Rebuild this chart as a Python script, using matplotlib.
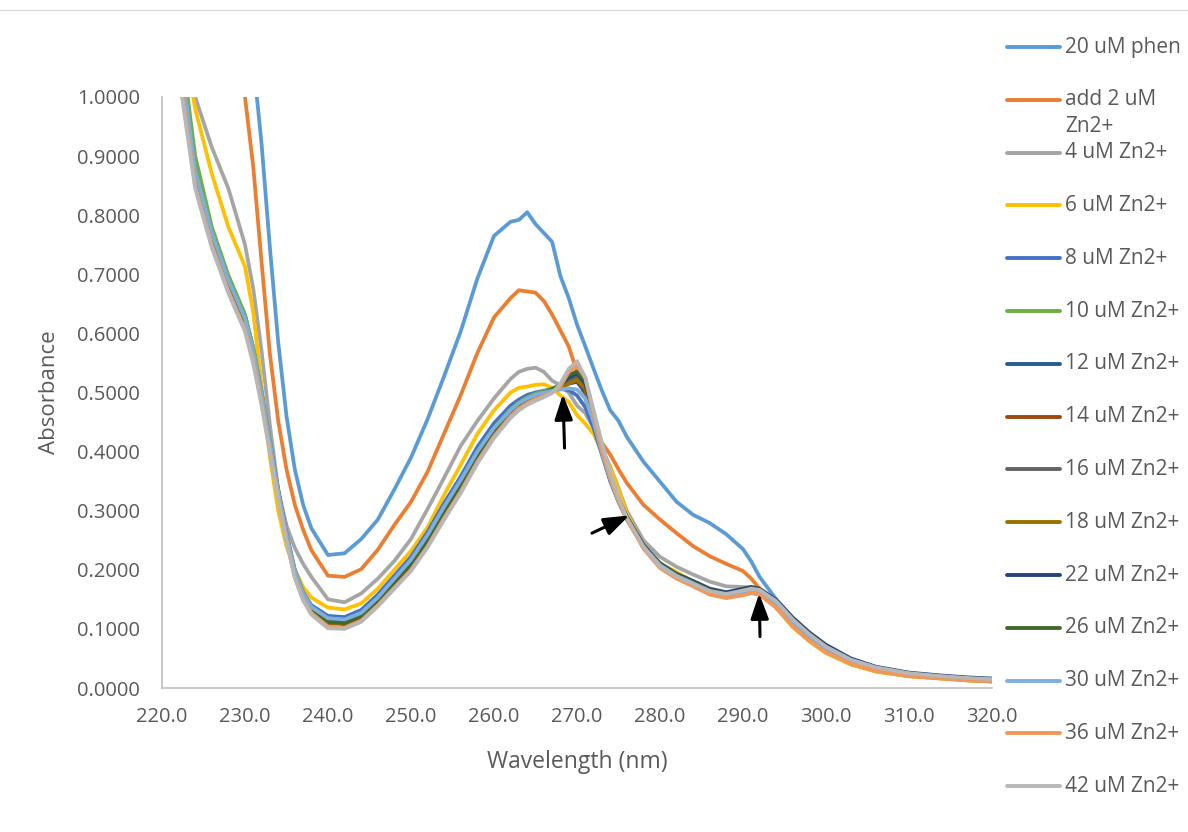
import matplotlib
matplotlib.use("Agg")
import matplotlib.pyplot as plt
from matplotlib.lines import Line2D
from matplotlib.ticker import FormatStrFormatter, MultipleLocator

plt.rcParams['font.family'] = ['Open Sans', 'DejaVu Sans']

# wavelength grid (nm) shared by every spectrum
wavelength = [220, 222, 224, 226, 228, 230, 231, 232, 233, 234, 235, 236, 237, 238,
              240, 242, 244, 246, 248, 250, 252, 254, 256, 258, 260, 262,
              263, 264, 265, 266, 267, 268, 269, 270, 271, 272, 273, 274, 275, 276,
              278, 280, 282, 284, 286, 288, 290, 291, 292,
              294, 296, 298, 300, 303, 306, 310, 314, 317, 320]

labels = ["20 uM phen", "add 2 uM\nZn2+", "4 uM Zn2+", "6 uM Zn2+", "8 uM Zn2+",
          "10 uM Zn2+", "12 uM Zn2+", "14 uM Zn2+", "16 uM Zn2+", "18 uM Zn2+",
          "22 uM Zn2+", "26 uM Zn2+", "30 uM Zn2+", "36 uM Zn2+", "42 uM Zn2+"]

colors = ["#5B9BD5", "#ED7D31", "#A5A5A5", "#FFC000", "#4472C4", "#70AD47",
          "#255E91", "#9E480E", "#636363", "#997300", "#264478", "#43682B",
          "#7CAFDD", "#F1975A", "#B7B7B7"]

phen_20 = [2.0, 2.0, 1.9, 1.75, 1.5, 1.2, 1.06, 0.92, 0.745, 0.585, 0.46, 0.37, 0.31, 0.27,
           0.225, 0.228, 0.252, 0.285, 0.336, 0.39, 0.455, 0.528, 0.604, 0.693, 0.765, 0.789,
           0.792, 0.805, 0.785, 0.77, 0.755, 0.697, 0.66, 0.615, 0.578, 0.54, 0.503, 0.47, 0.452, 0.425,
           0.383, 0.349, 0.315, 0.293, 0.279, 0.26, 0.235, 0.214, 0.188,
           0.150, 0.118, 0.092, 0.071, 0.048, 0.034, 0.025, 0.019, 0.016, 0.014]

zn_2 = [2.0, 1.9, 1.7, 1.5, 1.3, 1.0, 0.881, 0.72, 0.565, 0.452, 0.37, 0.31, 0.268, 0.233,
        0.19, 0.188, 0.201, 0.234, 0.276, 0.315, 0.366, 0.431, 0.496, 0.567, 0.627, 0.66,
        0.673, 0.671, 0.669, 0.655, 0.632, 0.605, 0.578, 0.535, 0.49, 0.445, 0.415, 0.395, 0.37, 0.347,
        0.31, 0.285, 0.262, 0.24, 0.223, 0.21, 0.198, 0.185, 0.168,
        0.136, 0.104, 0.08, 0.06, 0.04, 0.028, 0.02, 0.016, 0.013, 0.011]

zn_4 = [1.3, 1.15, 1.0, 0.915, 0.845, 0.75, 0.675, 0.57, 0.445, 0.335, 0.275, 0.237, 0.21, 0.188,
        0.15, 0.145, 0.16, 0.185, 0.215, 0.252, 0.303, 0.356, 0.41, 0.452, 0.49, 0.523,
        0.535, 0.54, 0.542, 0.535, 0.52, 0.512, 0.5, 0.478, 0.465, 0.44, 0.405, 0.375, 0.338, 0.30,
        0.25, 0.222, 0.205, 0.192, 0.18, 0.172, 0.171, 0.17, 0.166,
        0.145, 0.114, 0.088, 0.068, 0.046, 0.033, 0.024, 0.018, 0.015, 0.013]

zn_6 = [1.4, 1.15, 0.98, 0.87, 0.78, 0.713, 0.635, 0.51, 0.39, 0.30, 0.24, 0.20, 0.171, 0.153,
        0.136, 0.133, 0.143, 0.168, 0.20, 0.232, 0.272, 0.327, 0.378, 0.43, 0.47, 0.50,
        0.508, 0.51, 0.513, 0.514, 0.508, 0.495, 0.484, 0.462, 0.447, 0.43, 0.40, 0.373, 0.335, 0.295,
        0.24, 0.211, 0.196, 0.18, 0.166, 0.158, 0.158, 0.16, 0.158,
        0.136, 0.103, 0.079, 0.059, 0.04, 0.028, 0.02, 0.016, 0.013, 0.011]

zn_8 = [1.3, 1.1, 0.88, 0.775, 0.695, 0.63, 0.575, 0.50, 0.418, 0.335, 0.262, 0.2, 0.162, 0.14,
        0.122, 0.12, 0.132, 0.158, 0.19, 0.222, 0.264, 0.313, 0.358, 0.408, 0.448, 0.478,
        0.488, 0.496, 0.50, 0.503, 0.505, 0.506, 0.504, 0.495, 0.475, 0.44, 0.395, 0.35, 0.315, 0.285,
        0.24, 0.21, 0.19, 0.178, 0.165, 0.158, 0.162, 0.165, 0.163,
        0.142, 0.11, 0.086, 0.066, 0.045, 0.032, 0.023, 0.018, 0.015, 0.013]

zn_10 = [1.35, 1.12, 0.9, 0.78, 0.698, 0.632, 0.575, 0.5, 0.418, 0.335, 0.26, 0.198, 0.16, 0.137,
         0.118, 0.115, 0.126, 0.152, 0.183, 0.215, 0.257, 0.305, 0.35, 0.4, 0.44, 0.472,
         0.483, 0.492, 0.498, 0.502, 0.507, 0.512, 0.52, 0.525, 0.505, 0.455, 0.40, 0.355, 0.318, 0.288,
         0.24, 0.208, 0.19, 0.177, 0.163, 0.156, 0.162, 0.166, 0.162,
         0.14, 0.108, 0.084, 0.064, 0.044, 0.031, 0.022, 0.018, 0.015, 0.013]

zn_12 = [1.3, 1.08, 0.87, 0.765, 0.688, 0.622, 0.567, 0.494, 0.413, 0.333, 0.258, 0.196, 0.158, 0.135,
         0.116, 0.113, 0.124, 0.149, 0.18, 0.212, 0.254, 0.302, 0.347, 0.396, 0.437, 0.468,
         0.48, 0.489, 0.495, 0.5, 0.505, 0.51, 0.515, 0.518, 0.50, 0.452, 0.40, 0.354, 0.317, 0.287,
         0.24, 0.209, 0.191, 0.179, 0.166, 0.16, 0.166, 0.169, 0.166,
         0.146, 0.116, 0.091, 0.07, 0.048, 0.035, 0.025, 0.02, 0.017, 0.015]

zn_14 = [1.28, 1.06, 0.86, 0.758, 0.68, 0.615, 0.56, 0.488, 0.408, 0.328, 0.254, 0.192, 0.154, 0.131,
         0.11, 0.108, 0.12, 0.145, 0.175, 0.206, 0.247, 0.295, 0.34, 0.39, 0.432, 0.465,
         0.477, 0.486, 0.493, 0.498, 0.503, 0.508, 0.515, 0.52, 0.505, 0.455, 0.40, 0.355, 0.317, 0.287,
         0.239, 0.207, 0.189, 0.176, 0.162, 0.155, 0.16, 0.164, 0.161,
         0.14, 0.108, 0.083, 0.063, 0.043, 0.03, 0.021, 0.017, 0.014, 0.012]

zn_16 = [1.3, 1.07, 0.865, 0.76, 0.682, 0.617, 0.562, 0.49, 0.41, 0.33, 0.256, 0.194, 0.156, 0.133,
         0.112, 0.11, 0.121, 0.146, 0.176, 0.208, 0.249, 0.297, 0.342, 0.391, 0.433, 0.466,
         0.478, 0.487, 0.494, 0.499, 0.504, 0.51, 0.52, 0.525, 0.51, 0.458, 0.402, 0.356, 0.318, 0.288,
         0.24, 0.208, 0.19, 0.178, 0.164, 0.157, 0.163, 0.167, 0.164,
         0.144, 0.113, 0.088, 0.068, 0.047, 0.033, 0.024, 0.019, 0.016, 0.014]

zn_18 = [1.29, 1.07, 0.862, 0.758, 0.68, 0.615, 0.56, 0.489, 0.409, 0.33, 0.255, 0.193, 0.155, 0.132,
         0.111, 0.109, 0.12, 0.145, 0.175, 0.207, 0.248, 0.296, 0.341, 0.39, 0.432, 0.465,
         0.477, 0.486, 0.493, 0.498, 0.503, 0.509, 0.515, 0.522, 0.507, 0.456, 0.401, 0.355, 0.317, 0.287,
         0.239, 0.207, 0.189, 0.177, 0.163, 0.156, 0.161, 0.165, 0.162,
         0.141, 0.109, 0.084, 0.064, 0.044, 0.031, 0.022, 0.017, 0.014, 0.012]

zn_22 = [1.3, 1.08, 0.868, 0.762, 0.684, 0.619, 0.564, 0.492, 0.411, 0.331, 0.256, 0.194, 0.156, 0.133,
         0.113, 0.111, 0.122, 0.147, 0.177, 0.209, 0.25, 0.298, 0.343, 0.392, 0.434, 0.466,
         0.478, 0.487, 0.494, 0.499, 0.505, 0.512, 0.525, 0.532, 0.515, 0.462, 0.405, 0.358, 0.32, 0.29,
         0.242, 0.211, 0.193, 0.181, 0.168, 0.162, 0.168, 0.171, 0.168,
         0.149, 0.119, 0.094, 0.073, 0.05, 0.036, 0.026, 0.021, 0.018, 0.016]

zn_26 = [1.29, 1.07, 0.864, 0.76, 0.682, 0.617, 0.562, 0.49, 0.41, 0.33, 0.255, 0.193, 0.155, 0.132,
         0.112, 0.11, 0.121, 0.146, 0.176, 0.208, 0.249, 0.297, 0.342, 0.391, 0.433, 0.466,
         0.478, 0.487, 0.494, 0.499, 0.505, 0.513, 0.53, 0.535, 0.52, 0.464, 0.405, 0.357, 0.319, 0.289,
         0.241, 0.209, 0.191, 0.179, 0.166, 0.159, 0.165, 0.169, 0.166,
         0.146, 0.115, 0.09, 0.069, 0.047, 0.034, 0.024, 0.019, 0.016, 0.014]

zn_30 = [1.3, 1.09, 0.875, 0.77, 0.69, 0.625, 0.57, 0.497, 0.416, 0.334, 0.26, 0.198, 0.16, 0.137,
         0.118, 0.116, 0.127, 0.153, 0.185, 0.217, 0.259, 0.307, 0.352, 0.4, 0.44, 0.47,
         0.482, 0.49, 0.496, 0.5, 0.503, 0.505, 0.507, 0.505, 0.49, 0.45, 0.398, 0.353, 0.316, 0.286,
         0.239, 0.208, 0.19, 0.177, 0.164, 0.157, 0.162, 0.166, 0.163,
         0.143, 0.112, 0.087, 0.067, 0.046, 0.032, 0.023, 0.018, 0.015, 0.013]

zn_36 = [1.26, 1.05, 0.85, 0.75, 0.672, 0.607, 0.552, 0.482, 0.402, 0.323, 0.25, 0.188, 0.15, 0.127,
         0.104, 0.102, 0.114, 0.14, 0.17, 0.2, 0.24, 0.288, 0.333, 0.383, 0.426, 0.46,
         0.473, 0.482, 0.489, 0.494, 0.5, 0.51, 0.535, 0.545, 0.525, 0.463, 0.403, 0.356, 0.317, 0.286,
         0.236, 0.203, 0.185, 0.172, 0.158, 0.152, 0.157, 0.161, 0.158,
         0.136, 0.104, 0.08, 0.06, 0.041, 0.029, 0.02, 0.016, 0.013, 0.011]

zn_42 = [1.25, 1.04, 0.845, 0.745, 0.668, 0.603, 0.548, 0.478, 0.398, 0.32, 0.248, 0.186, 0.148, 0.124,
         0.101, 0.1, 0.112, 0.138, 0.168, 0.198, 0.238, 0.285, 0.33, 0.38, 0.423, 0.457,
         0.47, 0.479, 0.486, 0.492, 0.499, 0.515, 0.54, 0.553, 0.525, 0.47, 0.415, 0.363, 0.322, 0.288,
         0.239, 0.206, 0.189, 0.176, 0.164, 0.159, 0.165, 0.168, 0.166,
         0.147, 0.116, 0.091, 0.07, 0.048, 0.035, 0.025, 0.02, 0.017, 0.015]

spectra = [phen_20, zn_2, zn_4, zn_6, zn_8, zn_10, zn_12, zn_14, zn_16, zn_18,
           zn_22, zn_26, zn_30, zn_36, zn_42]

# arrows: (tail wavelength, tail abs, head wavelength, head abs)
arrows = [(268.5, 0.406, 268.3, 0.497),
          (271.8, 0.262, 276.3, 0.292),
          (292.05, 0.087, 291.95, 0.160)]

W, H = 1188, 832
fig = plt.figure(figsize=(W / 100, H / 100), dpi=100)
ax = fig.add_axes([162 / W, 1 - 688 / H, 830 / W, 591 / H])

for spec, col in zip(spectra, colors):
    ax.plot(wavelength, spec, color=col, lw=2.7, solid_capstyle='round')

for x0, y0, x1, y1 in arrows:
    ax.annotate("", xy=(x1, y1), xytext=(x0, y0),
                arrowprops=dict(arrowstyle='-|>,head_length=0.7,head_width=0.25',
                                color='black', lw=2.2, mutation_scale=22,
                                shrinkA=0, shrinkB=0))

ax.set_xlim(220, 320)
ax.set_ylim(0, 1)
ax.xaxis.set_major_locator(MultipleLocator(10))
ax.yaxis.set_major_locator(MultipleLocator(0.1))
ax.xaxis.set_major_formatter(FormatStrFormatter('%.1f'))
ax.yaxis.set_major_formatter(FormatStrFormatter('%.4f'))
ax.tick_params(axis='both', length=0, labelsize=14.5, labelcolor='#595959')
ax.tick_params(axis='y', pad=16)
ax.tick_params(axis='x', pad=14)
for side in ['top', 'right']:
    ax.spines[side].set_visible(False)
for side in ['left', 'bottom']:
    ax.spines[side].set_color('#BFBFBF')
    ax.spines[side].set_linewidth(1.2)

ax.set_xlabel("Wavelength (nm)", fontsize=16.5, color='#595959', labelpad=16)
ax.set_ylabel("Absorbance", fontsize=16, color='#595959', labelpad=12)

# legend drawn by hand to keep Excel's even row spacing
for i, (lab, col) in enumerate(zip(labels, colors)):
    yy = 1 - (47 + 52.8 * i) / H
    fig.add_artist(Line2D([1007 / W, 1060 / W], [yy, yy], color=col, lw=2.8,
                          solid_capstyle='round'))
    fig.text(1065 / W, yy + 0.0125, lab, fontsize=15, color='#595959',
             va='top', ha='left', linespacing=1.35)

fig.add_artist(Line2D([0, 1], [1 - 10 / H, 1 - 10 / H], color='#D9D9D9', lw=1))

fig.savefig("out.png", dpi=100)
